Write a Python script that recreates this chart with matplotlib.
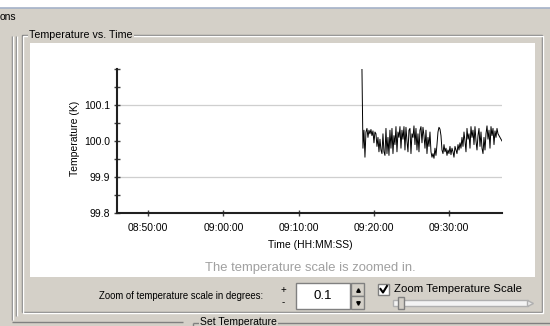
import matplotlib
matplotlib.use('Agg')
import matplotlib.pyplot as plt
import matplotlib.dates as mdates
import pandas as pd
from matplotlib.patches import Rectangle

plt.rcParams['font.family'] = ['Liberation Sans', 'DejaVu Sans']

# Temperature readings (K), one every few seconds after the setpoint change
temps = [100.200, 99.980, 100.030, 99.955, 100.025, 100.035, 100.010, 100.030, 100.020, 100.032,
         100.015, 100.028, 99.995, 100.025, 100.020, 99.985, 100.010, 99.970, 100.005, 99.975,
         99.965, 100.020, 99.970, 99.960, 100.035, 99.965, 100.010, 99.960, 100.030, 99.980,
         100.035, 99.965, 100.015, 99.990, 100.040, 99.970, 100.025, 100.010, 100.040, 99.980,
         100.030, 100.005, 100.040, 99.975, 100.038, 100.000, 99.970, 100.030, 100.035, 99.965,
         100.020, 100.010, 100.042, 99.990, 100.035, 99.975, 100.020, 99.970, 100.030, 100.040,
         99.995, 100.038, 100.015, 99.980, 100.030, 99.965, 100.010, 99.985, 100.025, 99.970,
         99.955, 99.965, 99.952, 99.980, 99.960, 99.990, 100.025, 100.038, 100.033, 100.015,
         99.975, 99.965, 99.990, 99.970, 99.980, 99.960, 99.975, 99.965, 99.985, 99.962,
         99.980, 99.970, 99.955, 99.985, 99.975, 99.965, 99.990, 99.975, 99.995, 99.980,
         100.010, 99.985, 100.025, 100.000, 99.970, 100.035, 100.005, 100.020, 99.980, 100.040,
         100.010, 100.030, 99.990, 100.040, 100.000, 99.975, 100.015, 100.035, 99.985, 100.025,
         99.980, 99.965, 100.010, 99.975, 100.020, 100.042, 100.005, 100.030, 99.980, 100.040,
         100.015, 100.035, 99.990, 100.028, 100.010, 100.035, 100.020, 100.015, 100.010, 100.005,
         100.000]
t_start = '2000-01-01 09:18:24'
t_end = '2000-01-01 09:37:00'
times = pd.date_range(t_start, t_end, periods=len(temps))

x_left = pd.Timestamp('2000-01-01 08:45:52')
x_right = pd.Timestamp('2000-01-01 09:37:00')
x_ticks = pd.to_datetime(['2000-01-01 08:50:00', '2000-01-01 09:00:00', '2000-01-01 09:10:00',
                          '2000-01-01 09:20:00', '2000-01-01 09:30:00'])
y_major = [99.8, 99.9, 100.0, 100.1]
y_minor = [99.85, 99.95, 100.05, 100.15, 100.2]
grid_temps = [99.9, 100.1]

GRAY = '#d4d0c8'
DARK = '#808080'

fig = plt.figure(figsize=(5.5, 3.26), dpi=100, facecolor=GRAY)

# window chrome drawn in pixel coordinates
bg = fig.add_axes([0, 0, 1, 1], zorder=0)
bg.set_xlim(0, 550)
bg.set_ylim(326, 0)
bg.axis('off')


def box(x0, y0, x1, y1, fc='none', ec='none', lw=1):
    bg.add_patch(Rectangle((x0, y0), x1 - x0, y1 - y0, facecolor=fc, edgecolor=ec, lw=lw))


def line(xs, ys, c=DARK, lw=1):
    bg.plot(xs, ys, color=c, lw=lw, solid_capstyle='butt')


box(0, 0, 550, 8, fc='white')
line([0, 550], [8, 8], c='#a4b2c8', lw=1.2)
bg.text(0, 17, 'ons', fontsize=7.5, va='center')

# outer frame on the left
line([12, 12], [36, 320])
line([13, 13], [36, 320], c='white')
line([16, 16], [36, 316])
line([17, 17], [36, 316], c='white')

# group box "Temperature vs. Time"
box(22, 35, 542, 312, ec=DARK)
box(23, 36, 543, 313, ec='white')
bg.text(29, 35, 'Temperature vs. Time', fontsize=7.7, va='center',
        bbox=dict(facecolor=GRAY, edgecolor='none', pad=1))
box(30, 43, 535, 277, fc='white')
bg.text(310, 268, 'The temperature scale is zoomed in.', fontsize=9.4, color='#a0a0a0',
        ha='center', va='center')

# zoom controls
bg.text(263, 296, 'Zoom of temperature scale in degrees:', fontsize=6.9, ha='right', va='center')
bg.text(283, 290, '+', fontsize=7, ha='center', va='center')
bg.text(283, 302, '-', fontsize=7, ha='center', va='center')
box(296, 283, 350, 309, fc='white', ec=DARK)
bg.text(323, 296, '0.1', fontsize=9.5, ha='center', va='center')
box(351, 283, 364, 296, fc=GRAY, ec=DARK)
box(351, 296, 364, 309, fc=GRAY, ec=DARK)
bg.plot([357.5], [289.5], marker='^', ms=2.5, color='black')
bg.plot([357.5], [302.5], marker='v', ms=2.5, color='black')
box(378, 284, 389, 295, fc='white', ec=DARK)
bg.plot([380.5, 383, 387], [289, 292.5, 286], color='black', lw=1.5)
bg.text(394, 289, 'Zoom Temperature Scale', fontsize=8.2, va='center')
box(393, 300, 528, 306, fc='#f4f4f4', ec='#b0b0b0')
box(398, 297, 404, 309, fc=GRAY, ec=DARK)
bg.plot([530], [303], marker='>', ms=5, color='#e8e8e8', mec='#b0b0b0')

# bottom group boxes
line([12, 183], [322, 322])
line([193, 550], [323, 323])
line([193, 193], [323, 326])
bg.text(200, 322, 'Set Temperature', fontsize=7.5, va='center',
        bbox=dict(facecolor=GRAY, edgecolor='none', pad=1))

# the chart itself
ax = fig.add_axes([117 / 550, 1 - 213 / 326, 385 / 550, 144 / 326], zorder=1)
ax.patch.set_alpha(0)
for t in grid_temps:
    ax.axhline(t, color='#cfcfcf', lw=0.9, zorder=0)
ax.plot(times, temps, color='black', lw=0.7, clip_on=True)

ax.set_xlim(x_left, x_right)
ax.set_ylim(99.8, 100.2)
ax.set_xticks(x_ticks)
ax.xaxis.set_major_formatter(mdates.DateFormatter('%H:%M:%S'))
ax.set_yticks(y_major)
ax.set_yticklabels([f'{v:.1f}' for v in y_major])
ax.set_yticks(y_minor, minor=True)

for side in ['top', 'right']:
    ax.spines[side].set_visible(False)
for side in ['left', 'bottom']:
    ax.spines[side].set_linewidth(1.5)
    ax.spines[side].set_color('#202020')
ax.tick_params(axis='both', which='both', direction='inout', length=4, width=1,
               color='#404040', labelsize=7.5, pad=3)
ax.tick_params(axis='x', pad=5)

ax.set_xlabel('Time (HH:MM:SS)', fontsize=7.5)
ax.set_ylabel('Temperature (K)', fontsize=7.5)
ax.xaxis.set_label_coords(0.501, -0.185)
ax.yaxis.set_label_coords(-0.096, 0.52)

fig.savefig('out.png', dpi=100, facecolor=GRAY)
